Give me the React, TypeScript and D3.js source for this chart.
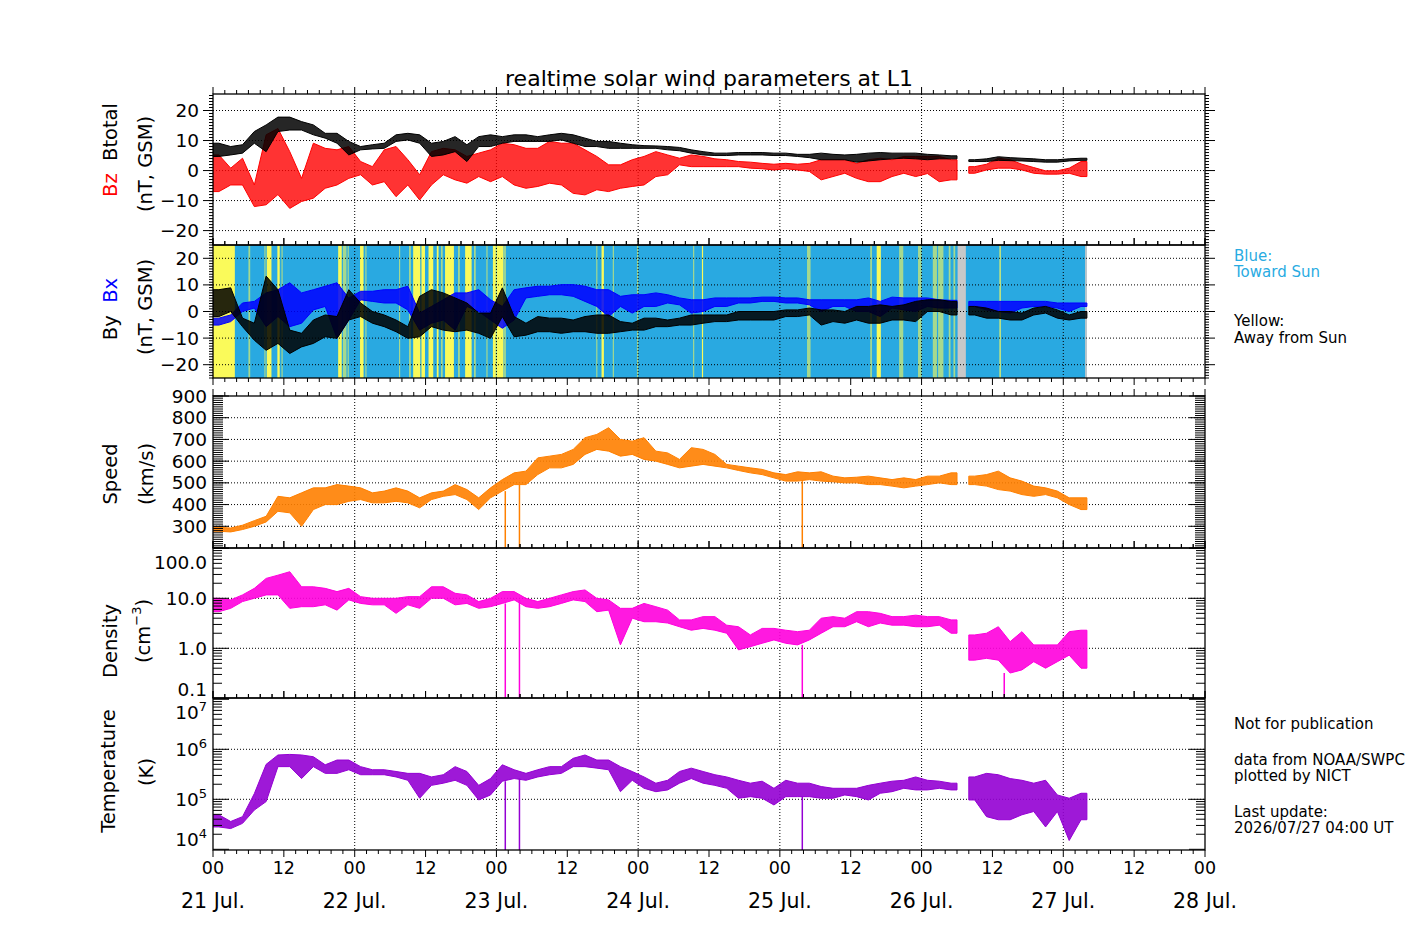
import React from "react";
import * as d3 from "d3";

// ---------------- labels ----------------
const titleText = "realtime solar wind parameters at L1";
const hourLabels = ["00", "12", "00", "12", "00", "12", "00", "12", "00", "12", "00", "12", "00", "12", "00"];
const hourLabelTimes = [0, 12, 24, 36, 48, 60, 72, 84, 96, 108, 120, 132, 144, 156, 168];
const dayLabels = ["21 Jul.", "22 Jul.", "23 Jul.", "24 Jul.", "25 Jul.", "26 Jul.", "27 Jul.", "28 Jul."];
const dayTimes = [0, 24, 48, 72, 96, 120, 144, 168];

// ---------------- data: envelopes (min/max) per 2-hour bin from 21 Jul 00 UT ----------------
const BIN = 2; // hours per bin
const btMax = [9.1, 8, 8.6, 13, 15.2, 17.8, 17.8, 16.3, 15.2, 12.4,
  12.4, 9.7, 8, 8.6, 9.1, 11.9, 12.4, 11.9, 9.1, 9.7,
  11.3, 8.6, 11.3, 11.9, 11.3, 11.9, 11.9, 11.3, 11.9, 12.4,
  11.9, 10.8, 9.7, 9.7, 9.1, 8.6, 8.3, 8.2, 8, 7.7,
  6.9, 6.3, 5.8, 5.8, 6, 6, 6, 5.8, 5.8, 5.4,
  5.4, 5.8, 5.4, 5.2, 5.4, 5.8, 6, 5.8, 5.8, 5.8,
  5.4, 5.2, 4.9, null, 3.6, 3.9, 4.6, 4.3, 4.1, 3.9,
  3.6, 3.6, 3.9, 4.1];
const btMin = [4.7, 5.2, 5.8, 9.1, 6.3, 13, 13.5, 13.5, 11.9, 10.8,
  9.1, 5.2, 6.9, 7.2, 7.4, 9.7, 10.2, 9.1, 4.7, 5.2,
  6.3, 3, 8, 8, 9.1, 9.7, 9.7, 9.7, 9.7, 10.2,
  9.1, 8, 8, 7.4, 7.4, 7.4, 7.4, 7.4, 6.9, 6.6,
  5.8, 5.2, 5, 5, 5.2, 5.2, 5.2, 5, 5, 4.7,
  4.3, 3.6, 3.6, 3.6, 2.8, 3.2, 3.6, 3.9, 4.1, 3.9,
  3.6, 3.9, 3.9, null, 3, 3, 3.4, 3.3, 3.2, 3,
  2.8, 2.8, 3.2, 3.4];
const bzMax = [5.2, 0.8, 4.1, -4.8, 11.9, 14, 6.3, -2.6, 9.1, 7.4,
  6.9, 8, 3, 1.3, 6.9, 8, 3.6, -1.4, 6.3, 7.4,
  6.9, 4.7, 5.8, 6.9, 9.1, 8.6, 7.4, 7.4, 9.7, 9.1,
  9.1, 6.9, 4.7, 1.9, 1.9, 3.6, 4.7, 6.3, 5.2, 4.1,
  5.2, 4.7, 3.9, 3.6, 3, 2.8, 2.4, 2.1, 2.4, 2.1,
  2.4, 3.6, 3.6, 3.6, 2.4, 3.6, 4.1, 3.6, 4.7, 4.7,
  4.7, 4.7, 3.6, null, 1.3, 2.1, 4.1, 3.6, 2.1, 1,
  -0.1, -0.1, 0.8, 3];
const bzMin = [-7, -4.8, -4.8, -12, -11.4, -8, -12.6, -10.3, -9.2, -5.9,
  -4.8, -2.6, -1.4, -4.8, -3.7, -8.7, -4.8, -9.8, -4.8, -1.4,
  -3.1, -4.2, -2, -3.7, -2, -4.8, -5.9, -5.3, -4.2, -4.8,
  -7.6, -8.1, -6.4, -7, -5.9, -5.3, -4.8, -2, -1.4, 1.9,
  1.3, 1.3, 1.3, 1.3, 1.3, 0.8, 0.6, 0.2, 0.6, 0.2,
  -0.3, -3.1, -2, -0.9, -2.6, -3.7, -3.7, -2, -0.9, -2,
  -1, -3.7, -3.1, null, -0.9, 0.2, 0.8, 0.8, 0.2, -0.9,
  -1.2, -1.2, -0.9, -2];
const bxMax = [-2.5, -1.3, 3.2, 3.8, 7, 8.2, 10.8, 7, 8.2, 9.5,
  10.8, 5, 7.6, 7.6, 8.2, 8.2, 9.5, -0.6, 1.9, 4.4,
  7, 7, 8.2, 4.4, 1.9, 8.2, 8.9, 9.5, 9.5, 10.1,
  10.1, 9.5, 8.2, 8.2, 5.7, 6.3, 6.3, 7, 6.3, 5.1,
  4.4, 4.4, 5.1, 5.1, 5.1, 5.1, 5.4, 5.4, 5.1, 5.1,
  4.4, 4.4, 4.4, 4.4, 4.4, 5.1, 3.8, 5.4, 5.1, 5.1,
  5.1, 4.4, 4.2, null, 3.8, 3.8, 3.8, 3.8, 3.8, 3.8,
  3.8, 3.2, 3.2, 3.2];
const bxMin = [-5.1, -3.8, 0, 1.3, -5.7, -1.9, -5.7, -4.4, 0.6, 1.9,
  -10.1, -3.2, 4.4, 3.8, 3.2, 3.2, 0.6, -7, -4.4, -3.2,
  -7, 1.9, 0, -3.2, -6.3, -3.2, 5.1, 5.7, 6.3, 6.3,
  5.7, 3.8, 1.9, -1.9, 1.9, -0.6, 1.9, 1.9, 3.2, 2.5,
  -0.6, 0, 1.9, 1.9, 3.2, 3.2, 3.8, 3.8, 3.2, 3.2,
  2.5, 0, 1.9, 1.9, 0, 0, -1.9, 1.3, 0.6, 0,
  1.9, 1.3, 1.3, null, 1.9, 0.6, 0, -0.6, 1.3, 1.9,
  1.9, 1.3, 0, 1.9];
const byMax = [8.2, 8.9, -2.5, -4.4, 13.3, 8.2, -7, -8.2, -3.2, -1.3,
  -1.9, 8.2, 3.2, 0, -1.3, -3.2, -5.7, 5.7, 8.2, 7,
  5.1, 3.2, -0.6, -0.6, 8.9, -1.9, -4.4, -1.9, -2.5, -2.5,
  -3.2, -1.9, -1.3, -1.3, -3.8, -4.4, -2.5, -2.5, -3.2, -2.5,
  -1.3, -1.3, -1.3, -1.3, 0, 0, 0, 0, 0.6, 0.6,
  1.3, 0.6, 0.6, 0, 1.9, 1.9, 2.5, 1.9, 2.5, 3.8,
  4.4, 4.4, 3.8, null, 1.9, 1.3, 0, 0, -0.6, 1.3,
  1.9, 0.6, -1.3, 0];
const byMin = [-1.9, 0, -5.7, -10.8, -14.6, -12, -15.8, -13.3, -12, -9.5,
  -10.1, -3.2, -1.9, -4.4, -5.7, -7.6, -10.1, -9.5, -5.7, -7,
  -7.6, -7, -8.2, -10.1, -1.9, -9.5, -8.9, -7.6, -7.6, -8.2,
  -7.6, -7.6, -8.2, -8.2, -7.6, -7, -7, -5.7, -5.7, -5.1,
  -5.1, -4.4, -3.8, -3.8, -3.2, -3.2, -3.2, -3.2, -1.9, -1.9,
  -1.3, -5.1, -3.8, -4.4, -3.2, -4.4, -4.4, -3.2, -3.2, -3.8,
  0, 0, -1.3, null, -1.3, -2.5, -2.5, -3.2, -3.2, -1.3,
  -0.6, -2.5, -3.2, -2.5];
const speedMax = [295, 292, 305, 326, 346, 438, 431, 454, 477, 477,
  492, 485, 477, 454, 462, 477, 462, 431, 454, 462,
  492, 469, 431, 477, 515, 546, 554, 615, 623, 631,
  654, 708, 723, 754, 700, 692, 708, 646, 638, 608,
  662, 654, 631, 585, 577, 569, 562, 546, 538, 551,
  546, 551, 531, 523, 526, 531, 523, 515, 523, 515,
  531, 531, 546, null, 531, 538, 554, 523, 508, 485,
  477, 462, 431, 431];
const speedMin = [277, 274, 285, 300, 320, 369, 362, 300, 377, 400,
  400, 415, 423, 408, 408, 415, 408, 385, 423, 438,
  446, 423, 377, 431, 462, 492, 492, 538, 569, 569,
  585, 631, 654, 646, 623, 631, 608, 600, 585, 569,
  577, 585, 577, 569, 557, 546, 538, 523, 508, 508,
  515, 508, 505, 500, 500, 492, 492, 485, 477, 485,
  492, 500, 492, null, 492, 485, 469, 462, 446, 438,
  446, 431, 400, 377];
const densMax = [10, 9.3, 11.7, 15.8, 25, 29, 34, 17, 17, 15.8,
  13.6, 15.8, 10.8, 10, 10, 10, 10.8, 10.8, 17, 17,
  12.6, 11.7, 8.6, 10, 13.6, 13.6, 10, 8.6, 10, 11.7,
  13.6, 14.7, 10, 9.3, 6.3, 6.3, 7.9, 6.8, 5.8, 3.7,
  3.7, 4.3, 4.3, 2.9, 2.7, 1.85, 2.5, 2.5, 2.3, 2.15,
  2.3, 4, 4.3, 4, 5.4, 5.4, 5, 4.3, 4.3, 4.6,
  4.3, 4.3, 3.7, null, 1.85, 2, 2.7, 1.36, 2.15, 1.17,
  1.17, 1.17, 2.15, 2.3];
const densMin = [5.4, 6.3, 8.6, 10, 11.7, 11.7, 6.3, 6.8, 6.8, 7.4,
  5.8, 9.3, 7.9, 7.4, 7.4, 5, 7.4, 6.3, 10, 10,
  7.4, 7.9, 6.3, 6.8, 7.9, 9.3, 6.8, 6.3, 6.8, 7.9,
  9.3, 8.6, 5.4, 5.8, 1.17, 4, 3.4, 3.4, 3.2, 2.7,
  2.3, 2.5, 2.3, 2, 0.93, 1.08, 1.26, 1.47, 1.26, 1.17,
  1.47, 2, 2.7, 2.7, 3.4, 2.7, 3.2, 2.9, 2.9, 2.7,
  2.7, 2.9, 2, null, 0.58, 0.63, 0.58, 0.32, 0.37, 0.54,
  0.4, 0.54, 0.73, 0.4];
// temperature in units of 1000 K
const tempMaxK = [49, 36, 45, 130, 500, 770, 790, 770, 710, 490,
  610, 610, 450, 390, 390, 360, 330, 330, 280, 310,
  450, 360, 190, 260, 490, 390, 330, 390, 450, 450,
  660, 770, 610, 610, 450, 360, 280, 210, 240, 360,
  420, 360, 310, 280, 240, 210, 230, 166, 240, 210,
  210, 180, 166, 166, 166, 190, 210, 230, 240, 280,
  240, 230, 210, null, 280, 330, 310, 260, 240, 210,
  240, 122, 105, 132];
const tempMinK = [28, 26, 33, 61, 90, 450, 450, 260, 450, 330,
  330, 390, 310, 310, 310, 280, 240, 105, 190, 210,
  240, 190, 97, 122, 230, 260, 240, 280, 310, 330,
  450, 450, 420, 390, 142, 240, 166, 142, 154, 210,
  260, 210, 190, 166, 105, 113, 105, 77, 113, 113,
  113, 105, 105, 122, 113, 97, 132, 142, 166, 154,
  154, 166, 154, null, 97, 45, 39, 39, 49, 57,
  28, 57, 15, 39];
// short plasma data dropouts (hours since 21 Jul 00 UT)
const plasmaDropouts = [49.5, 51.9, 99.8];
const densitySpikes = [134.0];

// IMF sector background (hours)
const dataEndHour = 148;
const yellowBands = [[0, 3.7], [9.1, 9.9], [10.9, 11.3], [21.2, 21.8], [24.9, 25.5], [33.9, 35.1], [35.3, 35.9],
  [36.5, 37.3], [37.9, 38.2], [39.3, 40.8], [42.7, 43.8], [47.4, 47.9], [48.0, 49.2], [65.8, 66.2],
  [82.8, 83.0], [112.4, 113.1], [133.2, 133.4]];
const mixedBands = [[6.0, 6.3], [8.7, 8.9], [11.6, 11.8], [22.0, 22.6], [22.8, 23.0], [25.8, 26.0], [31.5, 31.7],
  [33.2, 33.5], [38.6, 38.9], [41.5, 41.8], [44.2, 44.5], [46.3, 46.5], [49.3, 49.6], [64.9, 65.1], [67.7, 67.9],
  [71.8, 72.0], [81.3, 81.5], [100.6, 101.2], [111.3, 111.6], [116.2, 116.9], [119.4, 120.0], [121.9, 122.6],
  [122.8, 123.7], [124.6, 124.9], [125.4, 125.7]];
const grayBands = [[126.1, 127.5], [147.7, 148]];

// ---------------- helpers ----------------
type Pt = { t: number; lo: number; hi: number };
function segments(lo: (number | null)[], hi: (number | null)[], scale = 1): Pt[][] {
  const segs: Pt[][] = [];
  let cur: Pt[] | null = null;
  for (let k = 0; k < lo.length; k++) {
    const l = lo[k], h = hi[k];
    if (l == null || h == null) { cur = null; continue; }
    if (!cur) { cur = [{ t: k * BIN, lo: l * scale, hi: h * scale }]; segs.push(cur); }
    cur.push({ t: k * BIN + BIN / 2, lo: l * scale, hi: h * scale });
  }
  for (const s of segs) { const e = s[s.length - 1]; s.push({ t: e.t + BIN / 2, lo: e.lo, hi: e.hi }); }
  return segs;
}

const FONT = "'DejaVu Sans', 'Liberation Sans', sans-serif";
const X0 = 213, X1 = 1205;

function Band({ x, y, lo, hi, color, scale = 1, clip, opacity = 0.85 }: any) {
  const segs = segments(lo, hi, scale);
  const area = d3.area<Pt>().x((d) => x(d.t)).y0((d) => y(d.lo)).y1((d) => y(d.hi));
  return (
    <g clipPath={`url(#${clip})`}>
      {segs.map((s, i) => (
        <path key={i} d={area(s) || ""} fill={color} fillOpacity={opacity} stroke={color} strokeWidth={1} strokeLinejoin="round" />
      ))}
    </g>
  );
}

export default function App() {
  const x = d3.scaleLinear().domain([0, 168]).range([X0, X1]);
  const yB = d3.scaleLinear().domain([-24.8, 25.5]).range([245, 94]);
  const yBxy = d3.scaleLinear().domain([-25, 25]).range([378, 245]);
  const ySp = d3.scaleLinear().domain([200, 900]).range([548, 396]);
  const yDn = d3.scaleLog().domain([0.1, 100]).range([698.3, 548.3]);
  const yTp = d3.scaleLog().domain([1e4, 1e7]).range([849.3, 699.3]);

  const panels = [
    { id: "p1", top: 94, bottom: 245, topDir: -1, botDir: -1 },
    { id: "p2", top: 245, bottom: 378, topDir: -1, botDir: 1 },
    { id: "p3", top: 396, bottom: 548, topDir: -1, botDir: -1 },
    { id: "p4", top: 548, bottom: 698, topDir: -1, botDir: -1 },
    { id: "p5", top: 698, bottom: 850, topDir: -1, botDir: 1 },
  ];

  const minorH = d3.range(0, 169, 2);
  const dayGrid = [24, 48, 72, 96, 120, 144];

  const logMinors = (lo: number, hi: number) => {
    const out: number[] = [];
    for (let d = lo; d < hi; d *= 10) for (let m = 2; m <= 9; m++) out.push(d * m);
    return out;
  };

  const yAxes = [
    { y: yB, majors: [-20, -10, 0, 10, 20], minors: d3.range(-24, 26, 1), out: true, majLen: 10, minLen: 4, grid: [-20, -10, 0, 10, 20] },
    { y: yBxy, majors: [-20, -10, 0, 10, 20], minors: d3.range(-25, 26, 1), out: true, majLen: 10, minLen: 4, grid: [-20, -10, 0, 10, 20] },
    { y: ySp, majors: d3.range(200, 901, 100), minors: d3.range(200, 901, 10), out: false, majLen: 16, minLen: 10, grid: [300, 400, 500, 600, 700, 800] },
    { y: yDn, majors: [0.1, 1, 10, 100], minors: logMinors(0.1, 100), out: false, majLen: 16, minLen: 9, grid: [1, 10] },
    { y: yTp, majors: [1e4, 1e5, 1e6, 1e7], minors: logMinors(1e4, 1e7), out: false, majLen: 16, minLen: 9, grid: [1e5, 1e6] },
  ];

  const gridStyle = { stroke: "#000", strokeWidth: 1, strokeDasharray: "1,2" } as const;

  const tickLines: JSX.Element[] = [];
  panels.forEach((p, pi) => {
    const ax = yAxes[pi];
    const addY = (v: number, len: number, key: string) => {
      const yy = ax.y(v);
      if (yy < p.top - 0.5 || yy > p.bottom + 0.5) return;
      if (ax.out) {
        tickLines.push(<line key={key + "L"} x1={X0} x2={X0 - len} y1={yy} y2={yy} stroke="#000" />);
        tickLines.push(<line key={key + "R"} x1={X1} x2={X1 + len} y1={yy} y2={yy} stroke="#000" />);
      } else {
        tickLines.push(<line key={key + "L"} x1={X0} x2={X0 + len} y1={yy} y2={yy} stroke="#000" />);
        tickLines.push(<line key={key + "R"} x1={X1} x2={X1 - len} y1={yy} y2={yy} stroke="#000" />);
      }
    };
    ax.minors.forEach((v, i) => addY(v, ax.minLen, `${p.id}ym${i}`));
    ax.majors.forEach((v, i) => addY(v, ax.majLen, `${p.id}yM${i}`));
    minorH.forEach((h) => {
      const len = h % 12 === 0 ? 7 : 4;
      const xx = x(h);
      tickLines.push(<line key={`${p.id}xt${h}`} x1={xx} x2={xx} y1={p.top} y2={p.top + p.topDir * len} stroke="#000" />);
      tickLines.push(<line key={`${p.id}xb${h}`} x1={xx} x2={xx} y1={p.bottom} y2={p.bottom + p.botDir * len} stroke="#000" />);
    });
  });

  const tickFont = 18.5;

  return (
    <svg width={1417} height={944} style={{ position: "absolute", left: 0, top: 0, background: "#fff" }} fontFamily={FONT}>
      <defs>
        {panels.map((p) => (
          <clipPath id={`clip-${p.id}`} key={p.id}>
            <rect x={X0} y={p.top} width={X1 - X0} height={p.bottom - p.top} />
          </clipPath>
        ))}
      </defs>
      <rect x={0} y={0} width={1417} height={944} fill="#fff" />

      <text x={(X0 + X1) / 2} y={86} textAnchor="middle" fontSize={22}>{titleText}</text>

      {/* panel 2 sector background */}
      <g>
        <rect x={x(0)} y={245} width={x(dataEndHour) - x(0)} height={133} fill="#29a9e1" />
        {mixedBands.map(([a, b], i) => (
          <rect key={`m${i}`} x={x(a)} y={245} width={x(b) - x(a)} height={133} fill="#a6d98e" />
        ))}
        {yellowBands.map(([a, b], i) => (
          <rect key={`y${i}`} x={x(a)} y={245} width={x(b) - x(a)} height={133} fill="#fafa5a" />
        ))}
        {grayBands.map(([a, b], i) => (
          <rect key={`g${i}`} x={x(a)} y={245} width={x(b) - x(a)} height={133} fill="#c8c8c8" />
        ))}
      </g>

      {/* grids */}
      {panels.map((p, pi) => (
        <g key={`grid${p.id}`}>
          {dayGrid.map((h) => (
            <line key={h} x1={x(h)} x2={x(h)} y1={p.top} y2={p.bottom} {...gridStyle} />
          ))}
          {yAxes[pi].grid.map((v) => (
            <line key={v} x1={X0} x2={X1} y1={yAxes[pi].y(v)} y2={yAxes[pi].y(v)} {...gridStyle} />
          ))}
        </g>
      ))}

      {/* data */}
      <Band x={x} y={yB} lo={bzMin} hi={bzMax} color="#ff0000" clip="clip-p1" opacity={0.8} />
      <Band x={x} y={yB} lo={btMin} hi={btMax} color="#000000" clip="clip-p1" opacity={0.85} />
      <Band x={x} y={yBxy} lo={bxMin} hi={bxMax} color="#0000ff" clip="clip-p2" opacity={0.85} />
      <Band x={x} y={yBxy} lo={byMin} hi={byMax} color="#000000" clip="clip-p2" opacity={0.85} />
      <Band x={x} y={ySp} lo={speedMin} hi={speedMax} color="#ff8000" clip="clip-p3" opacity={0.9} />
      <Band x={x} y={yDn} lo={densMin} hi={densMax} color="#ff00dd" clip="clip-p4" opacity={0.9} />
      <Band x={x} y={yTp} lo={tempMinK} hi={tempMaxK} scale={1000} color="#9400d3" clip="clip-p5" opacity={0.9} />

      {/* dropouts */}
      {plasmaDropouts.map((h, i) => {
        const k = Math.floor(h / BIN);
        const xx = x(h);
        return (
          <g key={`drop${i}`}>
            <line x1={xx} x2={xx} y1={ySp(speedMin[k] as number)} y2={548} stroke="#ff8000" strokeWidth={1.5} />
            <line x1={xx} x2={xx} y1={yDn(densMin[k] as number)} y2={698} stroke="#ff00dd" strokeWidth={1.5} />
            <line x1={xx} x2={xx} y1={yTp((tempMinK[k] as number) * 1000)} y2={850} stroke="#9400d3" strokeWidth={1.5} />
          </g>
        );
      })}
      {densitySpikes.map((h, i) => {
        const k = Math.floor(h / BIN);
        return <line key={`ds${i}`} x1={x(h)} x2={x(h)} y1={yDn(densMin[k] as number)} y2={698} stroke="#ff00dd" strokeWidth={1.5} />;
      })}

      {/* frames */}
      {panels.map((p) => (
        <rect key={`f${p.id}`} x={X0} y={p.top} width={X1 - X0} height={p.bottom - p.top} fill="none" stroke="#000" strokeWidth={1.3} />
      ))}
      {tickLines}

      {/* y tick labels */}
      <g fontSize={tickFont} textAnchor="end" dominantBaseline="central">
        {[20, 10, 0, -10, -20].map((v) => (
          <text key={`b${v}`} x={199} y={yB(v)}>{v < 0 ? `\u2212${-v}` : v}</text>
        ))}
        {[20, 10, 0, -10, -20].map((v) => (
          <text key={`bx${v}`} x={199} y={yBxy(v)}>{v < 0 ? `\u2212${-v}` : v}</text>
        ))}
        {[900, 800, 700, 600, 500, 400, 300].map((v) => (
          <text key={`s${v}`} x={207} y={ySp(v)}>{v}</text>
        ))}
        <text x={207} y={yDn(100) + 14}>100.0</text>
        <text x={207} y={yDn(10)}>10.0</text>
        <text x={207} y={yDn(1)}>1.0</text>
        <text x={207} y={yDn(0.1) - 9}>0.1</text>
      </g>
      <g fontSize={tickFont} textAnchor="end">
        {[
          { v: 1e7, e: "7", off: 13 },
          { v: 1e6, e: "6", off: 0 },
          { v: 1e5, e: "5", off: 0 },
          { v: 1e4, e: "4", off: -10 },
        ].map((d) => (
          <text key={d.e} x={207} y={yTp(d.v) + d.off + 7}>
            10<tspan dy={-8} fontSize={13}>{d.e}</tspan>
          </text>
        ))}
      </g>

      {/* x tick labels */}
      <g fontSize={17.5} textAnchor="middle">
        {hourLabels.map((l, i) => (
          <text key={`h${i}`} x={x(hourLabelTimes[i])} y={874}>{l}</text>
        ))}
      </g>
      <g fontSize={20.5} textAnchor="middle">
        {dayLabels.map((l, i) => (
          <text key={`d${i}`} x={x(dayTimes[i])} y={908}>{l}</text>
        ))}
      </g>

      {/* y axis labels */}
      <g fontSize={19.5} textAnchor="middle" dominantBaseline="central">
        <text transform="translate(110,150) rotate(-90)" style={{ whiteSpace: "pre" }}>
          <tspan fill="#ff0000">Bz</tspan><tspan fill="#000">{"  Btotal"}</tspan>
        </text>
        <text transform="translate(145,164) rotate(-90)">(nT, GSM)</text>
        <text transform="translate(110,309) rotate(-90)" style={{ whiteSpace: "pre" }}>
          <tspan fill="#000">By</tspan><tspan fill="#0000ff">{"  Bx"}</tspan>
        </text>
        <text transform="translate(145,307) rotate(-90)">(nT, GSM)</text>
        <text transform="translate(110,474) rotate(-90)">Speed</text>
        <text transform="translate(146,474) rotate(-90)">(km/s)</text>
        <text transform="translate(110,641) rotate(-90)">Density</text>
        <text transform="translate(143,631) rotate(-90)">
          (cm<tspan dy={-7} fontSize={13}>{"\u22123"}</tspan><tspan dy={7}>)</tspan>
        </text>
        <text transform="translate(108,771) rotate(-90)">Temperature</text>
        <text transform="translate(146,772) rotate(-90)">(K)</text>
      </g>

      <g fontSize={15} textAnchor="start">
        <text x={1234} y={261} fill="#29abe2">Blue:</text>
        <text x={1234} y={277} fill="#29abe2">Toward Sun</text>
        <text x={1234} y={326}>Yellow:</text>
        <text x={1234} y={343}>Away from Sun</text>
        <text x={1234} y={729}>Not for publication</text>
        <text x={1234} y={765}>data from NOAA/SWPC</text>
        <text x={1234} y={781}>plotted by NICT</text>
        <text x={1234} y={817}>Last update:</text>
        <text x={1234} y={833}>2026/07/27 04:00 UT</text>
      </g>
    </svg>
  );
}
